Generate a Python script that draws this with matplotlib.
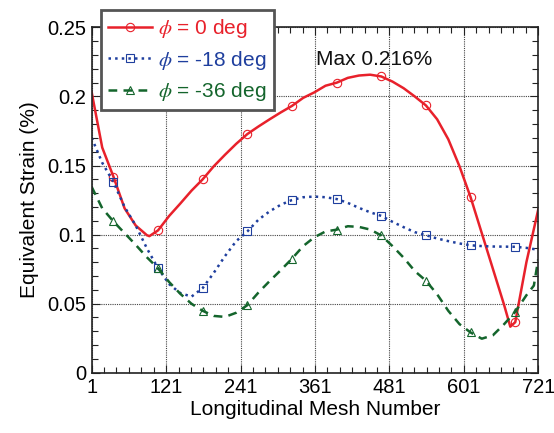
import numpy as np
import matplotlib
matplotlib.use("Agg")
import matplotlib.pyplot as plt
from matplotlib.ticker import FixedLocator, MultipleLocator

plt.rcParams['font.family'] = ['Liberation Sans', 'DejaVu Sans']
plt.rcParams['mathtext.fontset'] = 'stix'

# ---- data ----
x_red = [1, 18, 36, 54, 72, 90, 94, 108, 126, 144, 162, 180, 198, 216, 234, 252, 270,
         288, 306, 324, 342, 360, 378, 396, 414, 432, 450, 468, 486, 504, 522, 540,
         558, 576, 594, 612, 630, 648, 666, 676, 684, 702, 721]
y_red = [0.203, 0.163, 0.142, 0.119, 0.1065, 0.0995, 0.0988, 0.103, 0.1135, 0.1225,
         0.1318, 0.140, 0.1495, 0.1578, 0.1657, 0.1728, 0.1783, 0.1835, 0.1885, 0.1932,
         0.1990, 0.2030, 0.2078, 0.2100, 0.2135, 0.2152, 0.2158, 0.2145, 0.2108, 0.2060,
         0.2000, 0.1935, 0.1835, 0.1690, 0.1495, 0.1270, 0.1010, 0.0750, 0.0490, 0.0332,
         0.0365, 0.0800, 0.1180]

x_grid = [1, 18, 36, 54, 72, 90, 108, 126, 144, 162, 180, 198, 216, 234, 252, 270,
          288, 306, 324, 342, 360, 378, 396, 414, 432, 450, 468, 486, 504, 522, 540,
          558, 576, 594, 612, 630, 648, 666, 684, 702, 721]
y_blue = [0.170, 0.152, 0.138, 0.120, 0.1065, 0.090, 0.0755, 0.064, 0.0575, 0.055,
          0.0612, 0.0723, 0.0844, 0.0952, 0.1022, 0.1108, 0.1168, 0.1216, 0.1250, 0.1270,
          0.1275, 0.1270, 0.1257, 0.1229, 0.1193, 0.1161, 0.1135, 0.1092, 0.1053, 0.1017,
          0.0995, 0.0971, 0.0952, 0.0935, 0.0922, 0.0916, 0.0913, 0.0912, 0.0911, 0.0903,
          0.0889]

x_green = [1, 18, 36, 54, 72, 90, 108, 126, 144, 162, 180, 198, 216, 234, 252, 270,
           288, 306, 324, 342, 360, 378, 396, 414, 432, 450, 468, 486, 504, 522, 540,
           558, 576, 594, 612, 630, 648, 666, 684, 702, 714, 721]
y_green = [0.1345, 0.119, 0.1095, 0.101, 0.0925, 0.0835, 0.0755, 0.0655, 0.057, 0.0498,
           0.0447, 0.041, 0.0403, 0.0433, 0.0488, 0.058, 0.0663, 0.0742, 0.0825, 0.0916,
           0.0980, 0.1022, 0.1035, 0.1060, 0.1055, 0.1036, 0.0993, 0.0916, 0.0832, 0.0735,
           0.0665, 0.0567, 0.0447, 0.0351, 0.0290, 0.0245, 0.0270, 0.0350, 0.0440, 0.0560,
           0.0630, 0.0820]

marker_x = [36, 108, 180, 252, 324, 396, 468, 540, 612, 684]

labels = [r'$\phi$ = 0 deg', r'$\phi$ = -18 deg', r'$\phi$ = -36 deg']
colors = ['#e8212b', '#1f3f9e', '#14652c']

xticks = [1, 121, 241, 361, 481, 601, 721]
yticks = [0, 0.05, 0.1, 0.15, 0.2, 0.25]
ytick_labels = ['0', '0.05', '0.1', '0.15', '0.2', '0.25']

fig = plt.figure(figsize=(5.54, 4.33), dpi=100)
ax = fig.add_axes([0.1655, 0.1397, 0.806, 0.7968])

series = [(x_red, y_red, '-', 'o'), (x_grid, y_blue, ':', 's'), (x_green, y_green, '--', '^')]
for (xs, ys, ls, mk), lab, c in zip(series, labels, colors):
    xs = np.asarray(xs); ys = np.asarray(ys)
    idx = [i for i, v in enumerate(xs) if v in marker_x]
    kw = dict(dashes=(3.5, 2.5)) if ls == '--' else {}
    ax.plot(xs, ys, linestyle=ls, color=c, lw=1.8, marker=mk, markevery=idx,
            markersize=6, markerfacecolor='none', markeredgecolor=c,
            markeredgewidth=0.8, label=lab, **kw)

ax.set_xlim(1, 721)
ax.set_ylim(0, 0.25)
ax.set_xticks(xticks)
ax.set_xticklabels([str(t) for t in xticks])
ax.set_yticks(yticks)
ax.set_yticklabels(ytick_labels)
ax.xaxis.set_minor_locator(FixedLocator(np.arange(1, 722, 20)))
ax.yaxis.set_minor_locator(MultipleLocator(0.01))
ax.tick_params(which='both', direction='in', top=True, right=True, labelsize=14.5,
               width=0.8, color='#222222')
ax.tick_params(which='major', length=6, pad=4)
ax.tick_params(which='minor', length=4)
ax.grid(True, which='major', color='#444444', linestyle=(0, (1, 1)), linewidth=0.8)
for s in ax.spines.values():
    s.set_linewidth(1.2)
    s.set_color('#222222')

ax.set_xlabel('Longitudinal Mesh Number', fontsize=15, labelpad=2)
ax.set_ylabel('Equivalent Strain (%)', fontsize=15, labelpad=6)

ax.text(362, 0.2265, 'Max 0.216%', fontsize=15, ha='left', va='center', color='#111111')

leg = ax.legend(loc='upper left', bbox_to_anchor=(0.0208, 1.0507), fontsize=15,
                labelcolor='linecolor', fancybox=False, framealpha=1,
                edgecolor='#555555', handlelength=2.1, handletextpad=0.3,
                borderpad=0.35, labelspacing=0.4, borderaxespad=0)
leg.get_frame().set_linewidth(2)
leg.set_zorder(10)

fig.savefig('out.png', dpi=100)
